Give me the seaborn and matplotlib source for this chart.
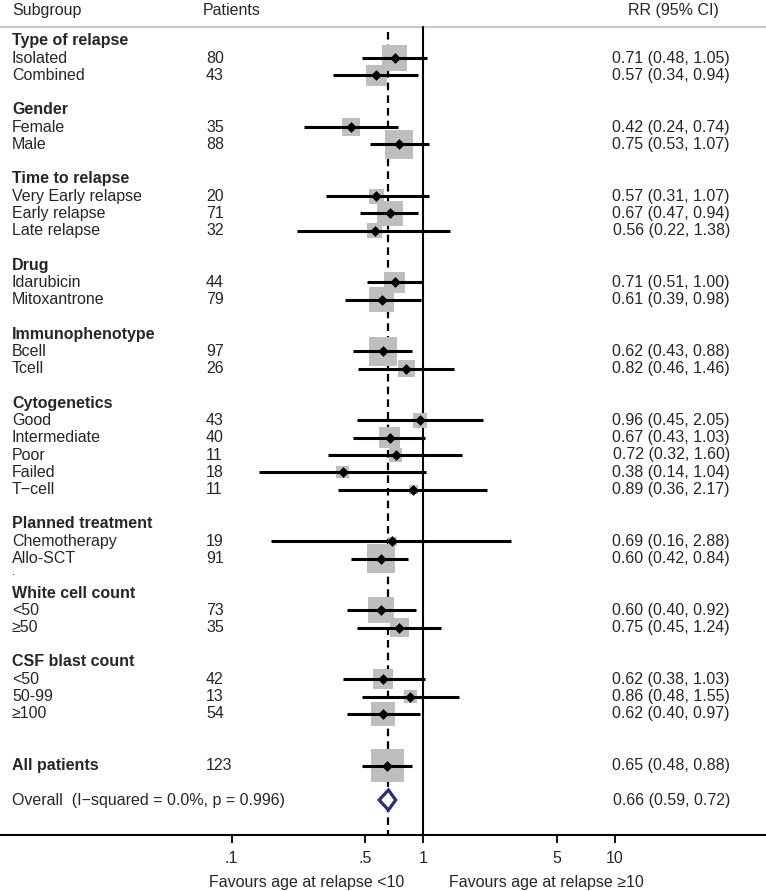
import numpy as np
import pandas as pd
import matplotlib
matplotlib.use("Agg")
import matplotlib.pyplot as plt
import matplotlib.transforms as mtransforms
import seaborn as sns

# subgroup data
groups = ["Type of relapse", "Gender", "Time to relapse", "Drug", "Immunophenotype",
          "Cytogenetics", "Planned treatment", "White cell count", "CSF blast count"]
group_sizes = [2, 2, 3, 2, 2, 5, 2, 2, 3]
labels = ["Isolated", "Combined", "Female", "Male", "Very Early relapse", "Early relapse",
          "Late relapse", "Idarubicin", "Mitoxantrone", "Bcell", "Tcell", "Good",
          "Intermediate", "Poor", "Failed", "T\u2212cell", "Chemotherapy", "Allo-SCT",
          "<50", "\u226550", "<50", "50-99", "\u2265100"]
patients = [80, 43, 35, 88, 20, 71, 32, 44, 79, 97, 26, 43, 40, 11, 18, 11, 19, 91, 73, 35, 42, 13, 54]
rr = [0.71, 0.57, 0.42, 0.75, 0.57, 0.67, 0.56, 0.71, 0.61, 0.62, 0.82, 0.96, 0.67, 0.72,
      0.38, 0.89, 0.69, 0.60, 0.60, 0.75, 0.62, 0.86, 0.62]
lo = [0.48, 0.34, 0.24, 0.53, 0.31, 0.47, 0.22, 0.51, 0.39, 0.43, 0.46, 0.45, 0.43, 0.32,
      0.14, 0.36, 0.16, 0.42, 0.40, 0.45, 0.38, 0.48, 0.40]
hi = [1.05, 0.94, 0.74, 1.07, 1.07, 0.94, 1.38, 1.00, 0.98, 0.88, 1.46, 2.05, 1.03, 1.60,
      1.04, 2.17, 2.88, 0.84, 0.92, 1.24, 1.03, 1.55, 0.97]
# box weights (percent, all patients = 100)
weights = [61, 40, 30, 72, 22, 62, 21, 44, 57, 72, 27, 18, 40, 16, 14, 8, 7, 72, 62, 33, 37, 16, 53]

all_n = 123
all_rr, all_lo, all_hi = 0.65, 0.48, 0.88
overall_rr, overall_lo, overall_hi = 0.66, 0.59, 0.72
overall_text = "Overall  (I\u2212squared = 0.0%, p = 0.996)"

tick_vals = [0.1, 0.5, 1, 5, 10]
tick_labels = [".1", ".5", "1", "5", "10"]

# build row layout: header, items, blank line per group
rows = []
k = 0
for g, n in zip(groups, group_sizes):
    rows.append(("head", g))
    for i in range(n):
        rows.append(("item", k))
        k += 1
    rows.append(("blank", "." if g == "Planned treatment" else ""))
rows.append(("blank", ""))
rows.append(("all", "All patients"))
rows.append(("blank", ""))
rows.append(("overall", overall_text))

item_rows = [i for i, r in enumerate(rows) if r[0] == "item"]
all_row = [i for i, r in enumerate(rows) if r[0] == "all"][0]
overall_row = [i for i, r in enumerate(rows) if r[0] == "overall"][0]

df = pd.DataFrame({"label": labels + ["All patients"],
                   "n": patients + [all_n],
                   "rr": rr + [all_rr], "lo": lo + [all_lo], "hi": hi + [all_hi],
                   "w": weights + [100],
                   "row": item_rows + [all_row]})

sns.set_style("white")
plt.rcParams["font.family"] = ["Liberation Sans", "DejaVu Sans"]
fs = 11.5

W, H = 766, 891
fig = plt.figure(figsize=(W / 100, H / 100), dpi=100)
ax = fig.add_axes([0, 0, 1, 1])
ax.set_xscale("log")
px_dec = 191.5
x1 = 423
ax.set_xlim(10 ** (-x1 / px_dec), 10 ** ((W - x1) / px_dec))
row_h = 17.25
y0 = 41
ax.set_ylim((H - y0) / row_h, -y0 / row_h)
ax.axis("off")

top_row = (27 - y0) / row_h
axis_row = (835 - y0) / row_h

# reference lines
ax.axhline(top_row, color="#c8c8c8", lw=1.6, zorder=1)
ax.plot([1, 1], [top_row, axis_row], color="black", lw=1.5, zorder=1)
ax.plot([overall_rr, overall_rr], [top_row + 0.3, axis_row], color="black", lw=1.6,
        ls=(0, (3.4, 2.3)), zorder=1)
ax.axhline(axis_row, color="black", lw=1.5, zorder=1)
ax.vlines(tick_vals, axis_row, axis_row + 0.45, color="black", lw=1.3)

# weighted boxes
c = 5.65
sns.scatterplot(data=df, x="rr", y="row", size="w",
                sizes=(c * df.w.min(), c * df.w.max()),
                marker="s", color="#bebebe", linewidth=0, legend=False, ax=ax, zorder=2)
# confidence intervals
ax.hlines(df.row, df.lo, df.hi, color="black", lw=2.2, zorder=3)
# point estimates
sns.scatterplot(data=df, x="rr", y="row", marker="D", color="black", s=30,
                linewidth=0, legend=False, ax=ax, zorder=4)

# overall diamond
ax.fill([overall_lo, overall_rr, overall_hi, overall_rr],
        [overall_row, overall_row - 0.58, overall_row, overall_row + 0.58],
        facecolor="white", edgecolor="#2d2d73", lw=2.3, zorder=5)

ax.set_xlabel("")
ax.set_ylabel("")

# text columns
tr = mtransforms.blended_transform_factory(ax.transAxes, ax.transData)
hdr_row = (11 - y0) / row_h
ax.text(12 / W, hdr_row, "Subgroup", transform=tr, fontsize=fs, va="center")
ax.text(203 / W, hdr_row, "Patients", transform=tr, fontsize=fs, va="center")
ax.text(719 / W, hdr_row, "RR (95% CI)", transform=tr, fontsize=fs, va="center", ha="right")

for i, r in enumerate(rows):
    if r[0] == "head":
        ax.text(12 / W, i, r[1], transform=tr, fontsize=fs, va="center", fontweight="bold")
    elif r[0] == "blank" and r[1]:
        ax.text(12 / W, i + 0.1, r[1], transform=tr, fontsize=8, va="bottom")

for _, d in df.iterrows():
    bold = "bold" if d.label == "All patients" else "normal"
    ax.text(12 / W, d.row, d.label, transform=tr, fontsize=fs, va="center", fontweight=bold)
    ax.text(206 / W, d.row, str(int(d.n)), transform=tr, fontsize=fs, va="center")
    ax.text(730 / W, d.row, f"{d.rr:.2f} ({d.lo:.2f}, {d.hi:.2f})", transform=tr,
            fontsize=fs, va="center", ha="right")

ax.text(12 / W, overall_row, overall_text, transform=tr, fontsize=fs, va="center")
ax.text(730 / W, overall_row, f"{overall_rr:.2f} ({overall_lo:.2f}, {overall_hi:.2f})",
        transform=tr, fontsize=fs, va="center", ha="right")

# x tick labels and direction labels
lab_row = (858 - y0) / row_h
for v, t in zip(tick_vals, tick_labels):
    ax.text(v, lab_row, t, fontsize=fs, ha="center", va="center")
fav_row = (882 - y0) / row_h
ax.text(404 / W, fav_row, "Favours age at relapse <10", transform=tr, fontsize=fs,
        ha="right", va="center")
ax.text(449 / W, fav_row, "Favours age at relapse \u226510", transform=tr, fontsize=fs,
        ha="left", va="center")

fig.savefig("out.png", dpi=100)
